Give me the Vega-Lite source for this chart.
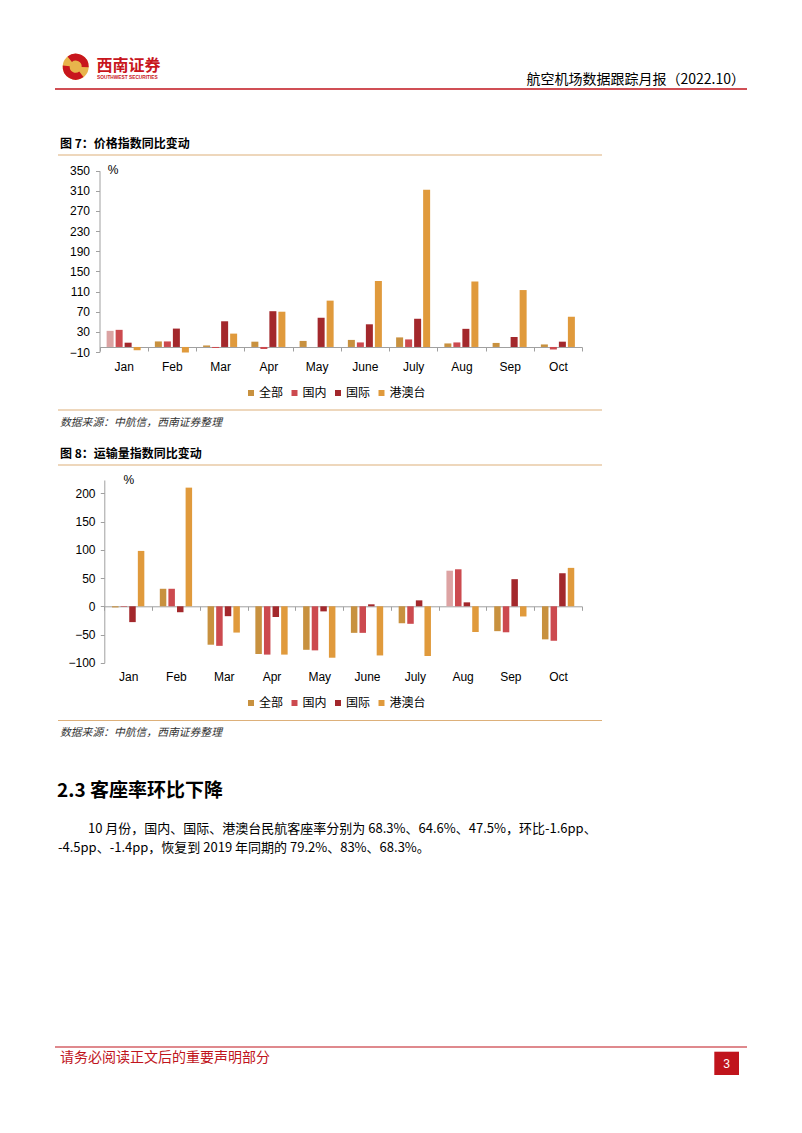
{
  "$schema": "https://vega.github.io/schema/vega-lite/v6.json",
  "width": 802,
  "height": 1133,
  "autosize": {"type": "none"},
  "padding": 0,
  "background": "white",
  "config": {"view": {"stroke": null}, "font": "Liberation Sans"},
  "datasets": {
    "price": [
      {"month": "Jan", "series": "全部", "value": 32}, {"month": "Jan", "series": "国内", "value": 34}, {"month": "Jan", "series": "国际", "value": 8.5}, {"month": "Jan", "series": "港澳台", "value": -6.5},
      {"month": "Feb", "series": "全部", "value": 11}, {"month": "Feb", "series": "国内", "value": 11}, {"month": "Feb", "series": "国际", "value": 36.5}, {"month": "Feb", "series": "港澳台", "value": -11},
      {"month": "Mar", "series": "全部", "value": 3}, {"month": "Mar", "series": "国内", "value": -2}, {"month": "Mar", "series": "国际", "value": 51}, {"month": "Mar", "series": "港澳台", "value": 26.5},
      {"month": "Apr", "series": "全部", "value": 10.5}, {"month": "Apr", "series": "国内", "value": -4}, {"month": "Apr", "series": "国际", "value": 71}, {"month": "Apr", "series": "港澳台", "value": 70},
      {"month": "May", "series": "全部", "value": 12}, {"month": "May", "series": "国内", "value": 0}, {"month": "May", "series": "国际", "value": 58}, {"month": "May", "series": "港澳台", "value": 92},
      {"month": "June", "series": "全部", "value": 14}, {"month": "June", "series": "国内", "value": 9}, {"month": "June", "series": "国际", "value": 45}, {"month": "June", "series": "港澳台", "value": 131},
      {"month": "July", "series": "全部", "value": 19}, {"month": "July", "series": "国内", "value": 15}, {"month": "July", "series": "国际", "value": 56}, {"month": "July", "series": "港澳台", "value": 312},
      {"month": "Aug", "series": "全部", "value": 7}, {"month": "Aug", "series": "国内", "value": 9}, {"month": "Aug", "series": "国际", "value": 36}, {"month": "Aug", "series": "港澳台", "value": 130},
      {"month": "Sep", "series": "全部", "value": 8}, {"month": "Sep", "series": "国内", "value": 0}, {"month": "Sep", "series": "国际", "value": 20}, {"month": "Sep", "series": "港澳台", "value": 113},
      {"month": "Oct", "series": "全部", "value": 5}, {"month": "Oct", "series": "国内", "value": -5}, {"month": "Oct", "series": "国际", "value": 10.5}, {"month": "Oct", "series": "港澳台", "value": 60}
    ],
    "volume": [
      {"month": "Jan", "series": "全部", "value": -2}, {"month": "Jan", "series": "国内", "value": -1}, {"month": "Jan", "series": "国际", "value": -28}, {"month": "Jan", "series": "港澳台", "value": 98},
      {"month": "Feb", "series": "全部", "value": 31}, {"month": "Feb", "series": "国内", "value": 31}, {"month": "Feb", "series": "国际", "value": -10.5}, {"month": "Feb", "series": "港澳台", "value": 210},
      {"month": "Mar", "series": "全部", "value": -68}, {"month": "Mar", "series": "国内", "value": -70}, {"month": "Mar", "series": "国际", "value": -17.5}, {"month": "Mar", "series": "港澳台", "value": -46.5},
      {"month": "Apr", "series": "全部", "value": -84.5}, {"month": "Apr", "series": "国内", "value": -85.5}, {"month": "Apr", "series": "国际", "value": -19}, {"month": "Apr", "series": "港澳台", "value": -85.5},
      {"month": "May", "series": "全部", "value": -77}, {"month": "May", "series": "国内", "value": -78}, {"month": "May", "series": "国际", "value": -9}, {"month": "May", "series": "港澳台", "value": -91},
      {"month": "June", "series": "全部", "value": -47}, {"month": "June", "series": "国内", "value": -47}, {"month": "June", "series": "国际", "value": 3.5}, {"month": "June", "series": "港澳台", "value": -87},
      {"month": "July", "series": "全部", "value": -30}, {"month": "July", "series": "国内", "value": -31}, {"month": "July", "series": "国际", "value": 10.5}, {"month": "July", "series": "港澳台", "value": -88},
      {"month": "Aug", "series": "全部", "value": 63}, {"month": "Aug", "series": "国内", "value": 65.5}, {"month": "Aug", "series": "国际", "value": 7}, {"month": "Aug", "series": "港澳台", "value": -45.5},
      {"month": "Sep", "series": "全部", "value": -44}, {"month": "Sep", "series": "国内", "value": -46}, {"month": "Sep", "series": "国际", "value": 48}, {"month": "Sep", "series": "港澳台", "value": -18},
      {"month": "Oct", "series": "全部", "value": -58.5}, {"month": "Oct", "series": "国内", "value": -61}, {"month": "Oct", "series": "国际", "value": 58.5}, {"month": "Oct", "series": "港澳台", "value": 68}
    ]
  },
  "layer": [
    {"data": {"values": [{}]}, "mark": {"type": "point", "shape": "circle", "filled": true, "size": 676, "color": "#E8B44C", "opacity": 1}, "encoding": {"x": {"value": 75.7}, "y": {"value": 66.7}}},
    {"data": {"values": [{}]}, "mark": {"type": "arc", "theta": 5.6, "theta2": 7.9, "radius": 13, "radius2": 6, "fill": "#C8161D"}, "encoding": {"x": {"value": 75.7}, "y": {"value": 66.7}}},
    {"data": {"values": [{}]}, "mark": {"type": "arc", "theta": 2.5, "theta2": 4.8, "radius": 13, "radius2": 6, "fill": "#C8161D"}, "encoding": {"x": {"value": 75.7}, "y": {"value": 66.7}}},
    {"data": {"values": [{"t": "西南证券"}]}, "mark": {"type": "text", "font": "Noto Sans CJK SC", "fontSize": 16, "fontWeight": "bold", "fill": "#C8161D", "align": "left", "baseline": "middle"}, "encoding": {"text": {"field": "t"}, "x": {"value": 96.5}, "y": {"value": 66}}},
    {"data": {"values": [{"t": "SOUTHWEST SECURITIES"}]}, "mark": {"type": "text", "font": "Liberation Sans", "fontSize": 4.8, "fontWeight": "bold", "fill": "#C8161D", "align": "left", "baseline": "middle"}, "encoding": {"text": {"field": "t"}, "x": {"value": 97}, "y": {"value": 77.5}}},
    {"data": {"values": [{"t": "航空机场数据跟踪月报（2022.10）"}]}, "mark": {"type": "text", "font": "Noto Sans CJK SC", "fontSize": 14, "fill": "#000000", "align": "right", "baseline": "middle"}, "encoding": {"text": {"field": "t"}, "x": {"value": 745}, "y": {"value": 80}}},
    {"data": {"values": [{}]}, "mark": {"type": "rule", "color": "#C0141C", "strokeWidth": 1.5}, "encoding": {"x": {"value": 55}, "x2": {"value": 747}, "y": {"value": 89}}},

    {"data": {"values": [{"t": "图 7：价格指数同比变动"}]}, "mark": {"type": "text", "font": "Noto Sans CJK SC", "fontSize": 12, "fontWeight": "bold", "fill": "#000000", "align": "left", "baseline": "middle"}, "encoding": {"text": {"field": "t"}, "x": {"value": 60}, "y": {"value": 144}}},
    {"data": {"values": [{}]}, "mark": {"type": "rule", "color": "#DDB07A", "strokeWidth": 1.2}, "encoding": {"x": {"value": 58}, "x2": {"value": 602}, "y": {"value": 155}}},
    {"data": {"values": [{}]}, "mark": {"type": "rule", "color": "#DDB07A", "strokeWidth": 1.2}, "encoding": {"x": {"value": 58}, "x2": {"value": 602}, "y": {"value": 410}}},
    {"data": {"values": [{"t": "数据来源：中航信，西南证券整理"}]}, "mark": {"type": "text", "font": "Noto Sans CJK SC", "fontSize": 10.8, "fontStyle": "italic", "fill": "#333333", "align": "left", "baseline": "middle"}, "encoding": {"text": {"field": "t"}, "x": {"value": 60}, "y": {"value": 423}}},

    {"data": {"values": [{"t": "图 8：运输量指数同比变动"}]}, "mark": {"type": "text", "font": "Noto Sans CJK SC", "fontSize": 12, "fontWeight": "bold", "fill": "#000000", "align": "left", "baseline": "middle"}, "encoding": {"text": {"field": "t"}, "x": {"value": 60}, "y": {"value": 454}}},
    {"data": {"values": [{}]}, "mark": {"type": "rule", "color": "#DDB07A", "strokeWidth": 1.2}, "encoding": {"x": {"value": 58}, "x2": {"value": 602}, "y": {"value": 465}}},
    {"data": {"values": [{}]}, "mark": {"type": "rule", "color": "#DDB07A", "strokeWidth": 1.2}, "encoding": {"x": {"value": 58}, "x2": {"value": 602}, "y": {"value": 720.5}}},
    {"data": {"values": [{"t": "数据来源：中航信，西南证券整理"}]}, "mark": {"type": "text", "font": "Noto Sans CJK SC", "fontSize": 10.8, "fontStyle": "italic", "fill": "#333333", "align": "left", "baseline": "middle"}, "encoding": {"text": {"field": "t"}, "x": {"value": 60}, "y": {"value": 733}}},

    {"data": {"values": [{"t": "2.3 客座率环比下降"}]}, "mark": {"type": "text", "font": "Noto Sans CJK SC", "fontSize": 19, "fontWeight": "bold", "fill": "#000000", "align": "left", "baseline": "middle"}, "encoding": {"text": {"field": "t"}, "x": {"value": 57}, "y": {"value": 790.5}}},
    {"data": {"values": [{"t": "10 月份，国内、国际、港澳台民航客座率分别为 68.3%、64.6%、47.5%，环比-1.6pp、"}]}, "mark": {"type": "text", "font": "Noto Sans CJK SC", "fontSize": 13, "fill": "#000000", "align": "left", "baseline": "middle"}, "encoding": {"text": {"field": "t"}, "x": {"value": 88}, "y": {"value": 829}}},
    {"data": {"values": [{"t": "-4.5pp、-1.4pp，恢复到 2019 年同期的 79.2%、83%、68.3%。"}]}, "mark": {"type": "text", "font": "Noto Sans CJK SC", "fontSize": 13, "fill": "#000000", "align": "left", "baseline": "middle"}, "encoding": {"text": {"field": "t"}, "x": {"value": 58}, "y": {"value": 848}}},

    {"data": {"values": [{}]}, "mark": {"type": "rule", "color": "#C0141C", "strokeWidth": 1.2}, "encoding": {"x": {"value": 55}, "x2": {"value": 747}, "y": {"value": 1047}}},
    {"data": {"values": [{"t": "请务必阅读正文后的重要声明部分"}]}, "mark": {"type": "text", "font": "Noto Sans CJK SC", "fontSize": 14, "fill": "#C0141C", "align": "left", "baseline": "middle"}, "encoding": {"text": {"field": "t"}, "x": {"value": 60}, "y": {"value": 1058}}},
    {"data": {"values": [{}]}, "mark": {"type": "rect", "fill": "#C0141C"}, "encoding": {"x": {"value": 714.3}, "x2": {"value": 739}, "y": {"value": 1051.7}, "y2": {"value": 1075}}},
    {"data": {"values": [{"t": "3"}]}, "mark": {"type": "text", "font": "Liberation Sans", "fontSize": 12, "fill": "#FFFFFF", "align": "center", "baseline": "middle"}, "encoding": {"text": {"field": "t"}, "x": {"value": 726.7}, "y": {"value": 1063.5}}},

    {
      "data": {"name": "price"},
      "mark": {"type": "bar"},
      "encoding": {
        "x": {"field": "month", "type": "nominal", "sort": ["Jan","Feb","Mar","Apr","May","June","July","Aug","Sep","Oct"],
          "scale": {"range": [99.5, 582], "paddingInner": 0, "paddingOuter": 0},
          "axis": {"orient": "bottom", "offset": -786, "title": null, "labelAngle": 0, "domainColor": "#A0A0A0", "tickColor": "#A0A0A0", "tickSize": 4, "tickBand": "extent", "labelPadding": 10, "labelFont": "Liberation Sans", "labelFontSize": 12, "labelColor": "#000000"}},
        "xOffset": {"field": "series", "type": "nominal", "sort": ["全部","国内","国际","港澳台"], "scale": {"paddingInner": 0.222, "paddingOuter": 0.79}},
        "y": {"field": "value", "type": "quantitative",
          "scale": {"domain": [-10, 350], "range": [352, 170.7], "nice": false, "zero": true},
          "axis": {"orient": "left", "offset": -99.5, "values": [-10,30,70,110,150,190,230,270,310,350], "grid": false, "domainColor": "#A0A0A0", "tickColor": "#A0A0A0", "tickSize": 4, "labelPadding": 6, "labelFont": "Liberation Sans", "labelFontSize": 12, "labelColor": "#000000",
            "title": "%", "titleAngle": 0, "titleX": 13, "titleY": 169, "titleAlign": "center", "titleBaseline": "middle", "titleFont": "Liberation Sans", "titleFontSize": 12, "titleFontWeight": "normal", "titleColor": "#000000"}},
        "color": {"field": "series", "type": "nominal",
          "condition": {"test": "datum.series === '全部' && datum.month === 'Jan'", "value": "#DBA3A3"},
          "scale": {"domain": ["全部","国内","国际","港澳台"], "range": ["#C8913F","#CC4A4F","#A3282C","#E09A3C"]},
          "legend": {"orient": "none", "legendX": 245, "legendY": 387, "direction": "horizontal", "title": null, "symbolType": "square", "symbolSize": 36, "symbolStrokeWidth": 0, "labelFont": "Noto Sans CJK SC", "labelFontSize": 12, "labelColor": "#000000", "labelOffset": 2, "columnPadding": 4.5}}
      }
    },
    {
      "data": {"name": "volume"},
      "mark": {"type": "bar"},
      "encoding": {
        "x": {"field": "month", "type": "nominal", "sort": ["Jan","Feb","Mar","Apr","May","June","July","Aug","Sep","Oct"],
          "scale": {"range": [104.3, 582], "paddingInner": 0, "paddingOuter": 0},
          "axis": {"orient": "bottom", "offset": -526.7, "title": null, "labelAngle": 0, "domainColor": "#A0A0A0", "tickColor": "#A0A0A0", "tickSize": 4, "tickBand": "extent", "labelPadding": 61.5, "labelFont": "Liberation Sans", "labelFontSize": 12, "labelColor": "#000000"}},
        "xOffset": {"field": "series", "type": "nominal", "sort": ["全部","国内","国际","港澳台"], "scale": {"paddingInner": 0.244, "paddingOuter": 0.9}},
        "y": {"field": "value", "type": "quantitative",
          "scale": {"domain": [-100, 223.5], "range": [662.8, 480], "nice": false, "zero": true},
          "axis": {"orient": "left", "offset": -104.3, "values": [-100,-50,0,50,100,150,200], "grid": false, "domainColor": "#A0A0A0", "tickColor": "#A0A0A0", "tickSize": 4, "labelPadding": 5.3, "labelFont": "Liberation Sans", "labelFontSize": 12, "labelColor": "#000000",
            "title": "%", "titleAngle": 0, "titleX": 24, "titleY": 479, "titleAlign": "center", "titleBaseline": "middle", "titleFont": "Liberation Sans", "titleFontSize": 12, "titleFontWeight": "normal", "titleColor": "#000000"}},
        "color": {"field": "series", "type": "nominal",
          "condition": {"test": "datum.series === '全部' && datum.month === 'Aug'", "value": "#DDA3A3"},
          "scale": {"domain": ["全部","国内","国际","港澳台"], "range": ["#C8913F","#CC4A4F","#A3282C","#E09A3C"]},
          "legend": {"orient": "none", "legendX": 245, "legendY": 697, "direction": "horizontal", "title": null, "symbolType": "square", "symbolSize": 36, "symbolStrokeWidth": 0, "labelFont": "Noto Sans CJK SC", "labelFontSize": 12, "labelColor": "#000000", "labelOffset": 2, "columnPadding": 4.5}}
      }
    }
  ],
  "resolve": {
    "scale": {"x": "independent", "y": "independent", "xOffset": "independent", "color": "independent"},
    "axis": {"x": "independent", "y": "independent"},
    "legend": {"color": "independent"}
  }
}
